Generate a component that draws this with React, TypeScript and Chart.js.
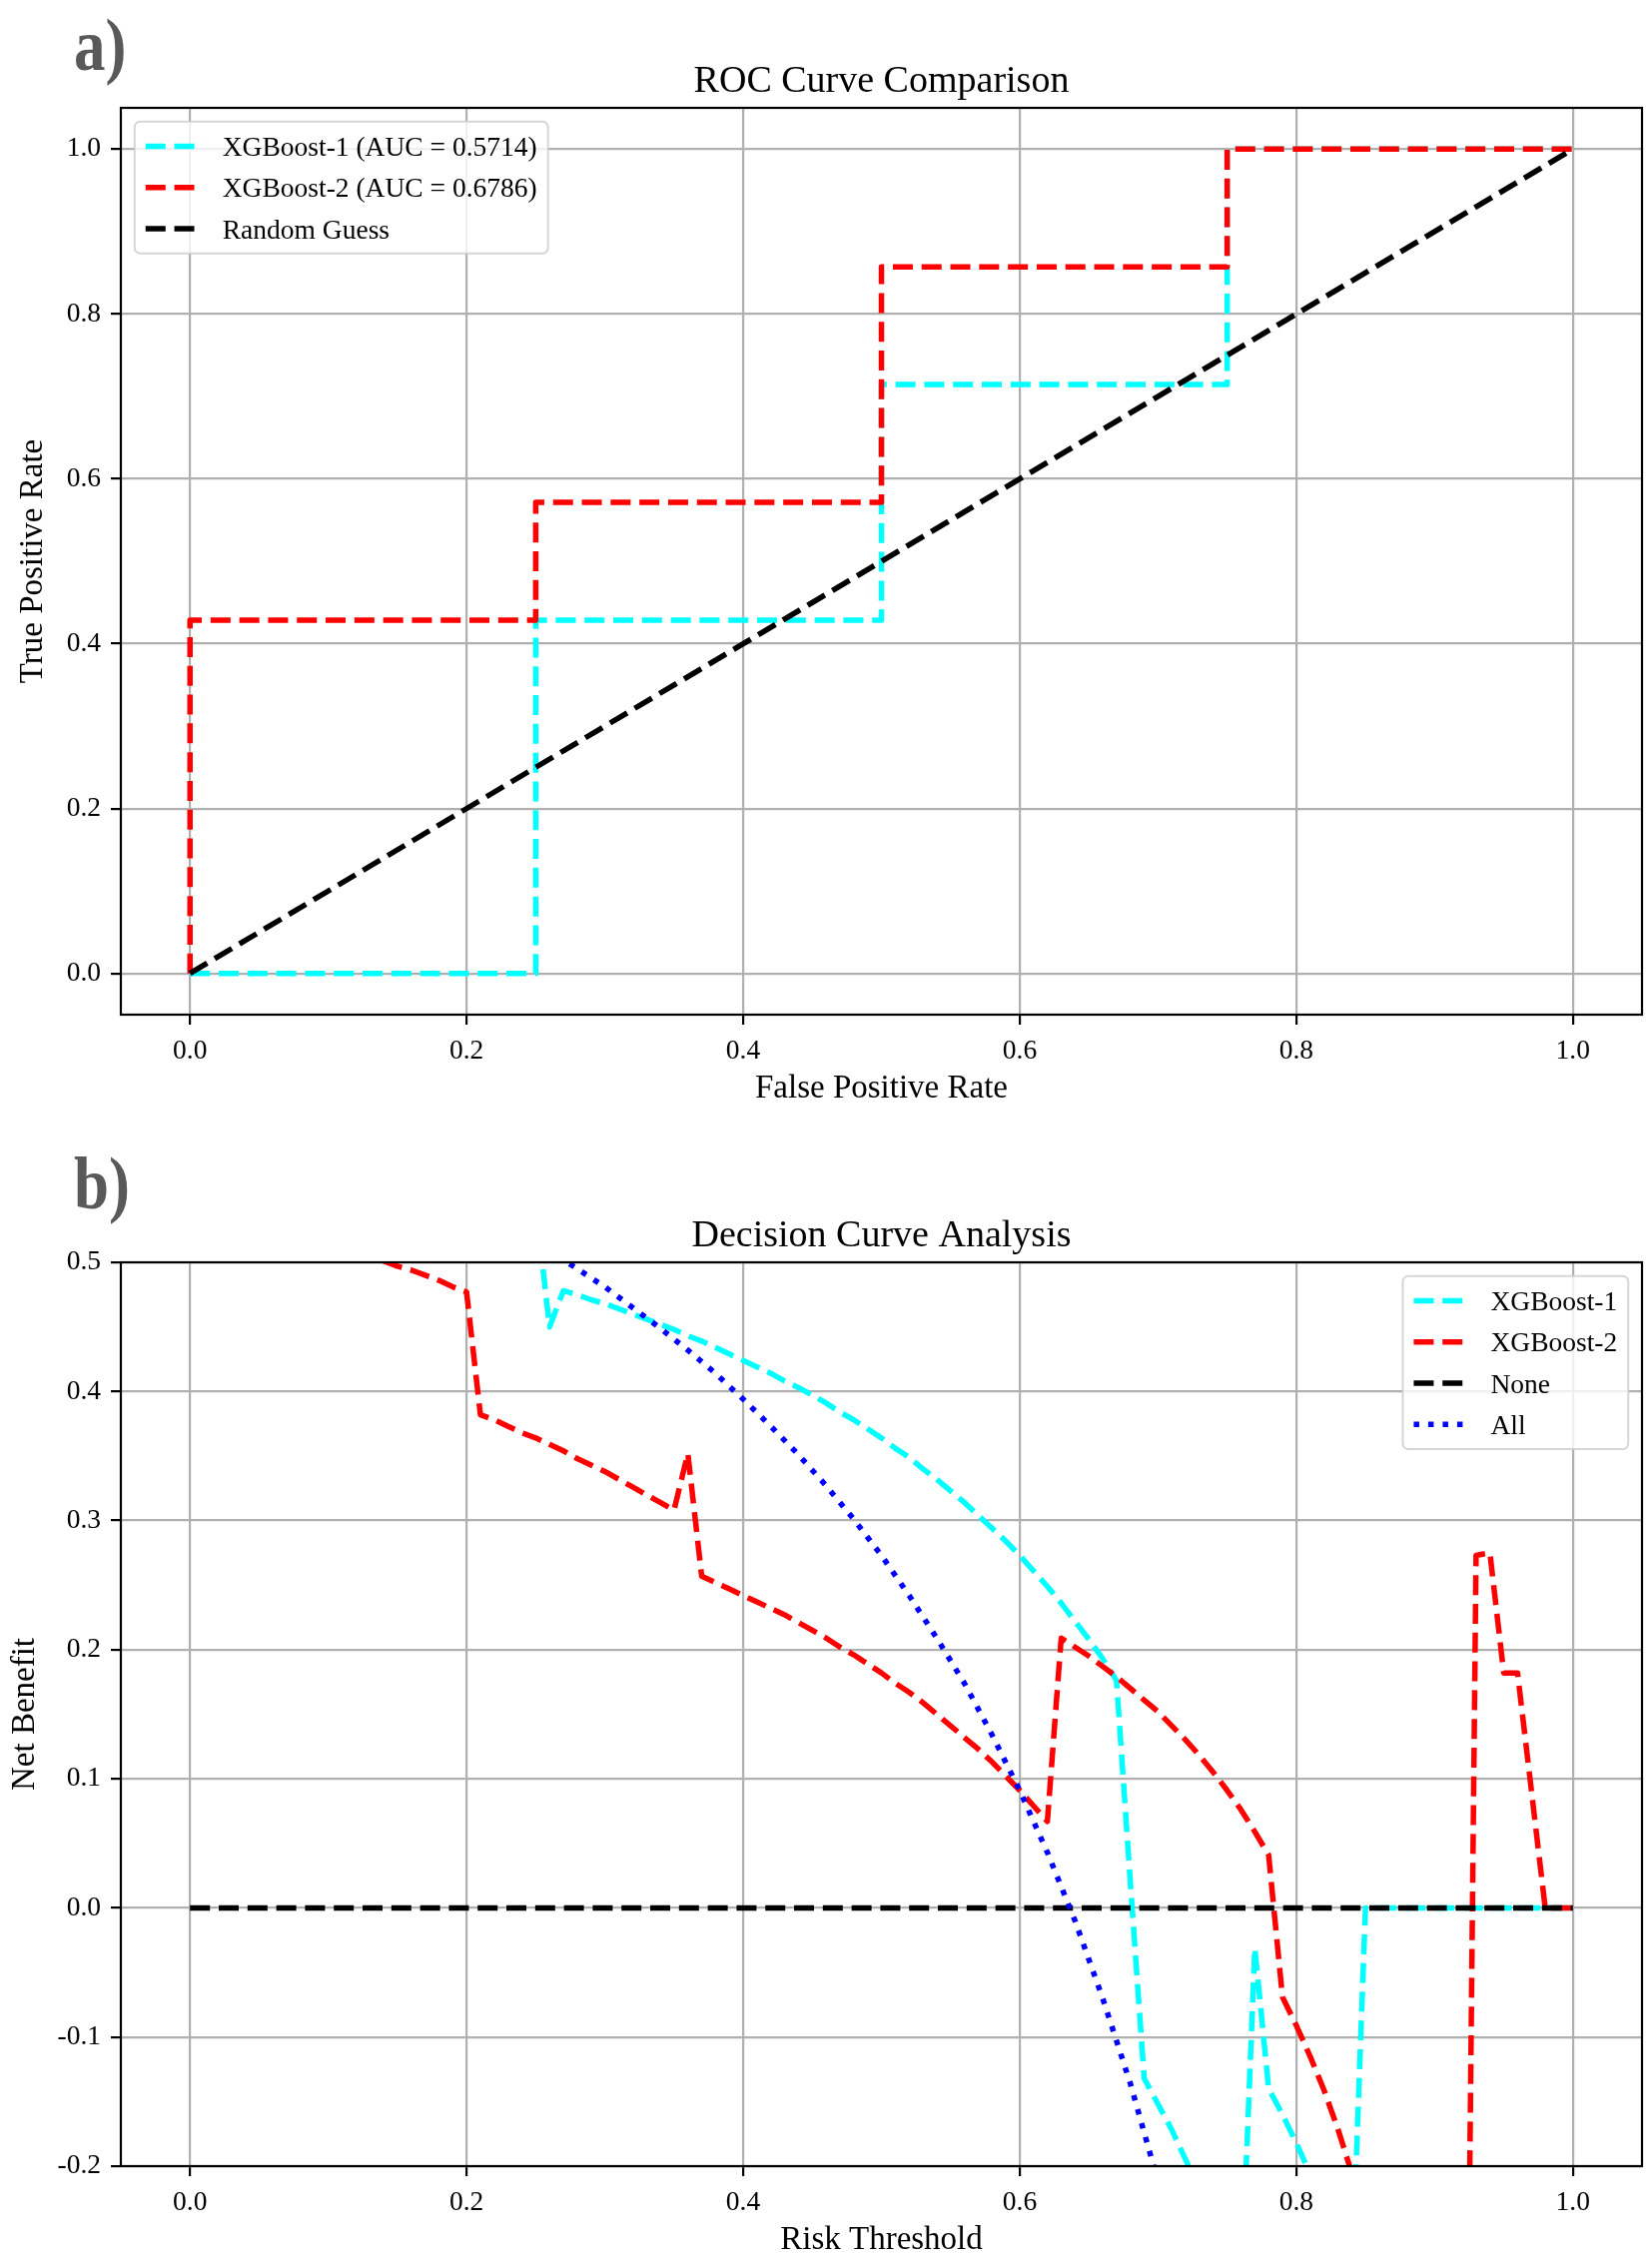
import { useEffect, useRef } from "react";
import { Chart, registerables } from "chart.js";

Chart.register(...registerables);

const SERIF = "'Liberation Serif', 'Times New Roman', serif";

// ---- panel a) ROC curves ----
const rocFpr1 = [0, 0.25, 0.25, 0.5, 0.5, 0.75, 0.75, 1.0];
const rocTpr1 = [0, 0, 0.4286, 0.4286, 0.7143, 0.7143, 1.0, 1.0];
const rocFpr2 = [0, 0, 0.25, 0.25, 0.5, 0.5, 0.75, 0.75, 1.0];
const rocTpr2 = [0, 0.4286, 0.4286, 0.5714, 0.5714, 0.8571, 0.8571, 1.0, 1.0];
const guessFpr = [0, 1];
const guessTpr = [0, 1];
const rocXTicks = [0, 0.2, 0.4, 0.6, 0.8, 1.0];
const rocYTicks = [0, 0.2, 0.4, 0.6, 0.8, 1.0];

// ---- panel b) decision curves ----
const thresholds = [
  0.0, 0.01, 0.02, 0.03, 0.04, 0.05, 0.06, 0.07, 0.08, 0.09,
  0.1, 0.11, 0.12, 0.13, 0.14, 0.15, 0.16, 0.17, 0.18, 0.19,
  0.2, 0.21, 0.22, 0.23, 0.24, 0.25, 0.26, 0.27, 0.28, 0.29,
  0.3, 0.31, 0.32, 0.33, 0.34, 0.35, 0.36, 0.37, 0.38, 0.39,
  0.4, 0.41, 0.42, 0.43, 0.44, 0.45, 0.46, 0.47, 0.48, 0.49,
  0.5, 0.51, 0.52, 0.53, 0.54, 0.55, 0.56, 0.57, 0.58, 0.59,
  0.6, 0.61, 0.62, 0.63, 0.64, 0.65, 0.66, 0.67, 0.68, 0.69,
  0.7, 0.71, 0.72, 0.73, 0.74, 0.75, 0.76, 0.77, 0.78, 0.79,
  0.8, 0.81, 0.82, 0.83, 0.84, 0.85, 0.86, 0.87, 0.88, 0.89,
  0.9, 0.91, 0.92, 0.93, 0.94, 0.95, 0.96, 0.97, 0.98, 0.99,
  1.0,
];
const nbXgb1 = [
  0.636, 0.634, 0.631, 0.628, 0.625, 0.622, 0.619, 0.616, 0.613, 0.609,
  0.606, 0.603, 0.599, 0.596, 0.592, 0.588, 0.584, 0.58, 0.577, 0.572,
  0.568, 0.564, 0.56, 0.555, 0.55, 0.545, 0.45, 0.478, 0.475, 0.471,
  0.468, 0.464, 0.46, 0.456, 0.452, 0.448, 0.443, 0.439, 0.434, 0.429,
  0.424, 0.419, 0.414, 0.408, 0.403, 0.397, 0.391, 0.384, 0.378, 0.371,
  0.364, 0.356, 0.349, 0.34, 0.332, 0.323, 0.314, 0.304, 0.294, 0.284,
  0.273, 0.261, 0.249, 0.236, 0.222, 0.208, 0.193, 0.176, 0.02, -0.132,
  -0.152, -0.172, -0.195, -0.219, -0.245, -0.273, -0.303, -0.031, -0.14, -0.16,
  -0.182, -0.206, -0.232, -0.262, -0.295, 0, 0, 0, 0, 0,
  0, 0, 0, 0, 0, 0, 0, 0, 0, 0,
  0,
];
const nbXgb2 = [
  0.545, 0.543, 0.54, 0.537, 0.534, 0.531, 0.528, 0.525, 0.522, 0.519,
  0.515, 0.512, 0.508, 0.505, 0.501, 0.497, 0.494, 0.49, 0.486, 0.481,
  0.477, 0.382, 0.378, 0.373, 0.368, 0.364, 0.359, 0.354, 0.348, 0.343,
  0.338, 0.332, 0.326, 0.32, 0.314, 0.308, 0.352, 0.257, 0.252, 0.247,
  0.242, 0.237, 0.232, 0.227, 0.221, 0.215, 0.209, 0.202, 0.196, 0.189,
  0.182, 0.174, 0.167, 0.159, 0.15, 0.141, 0.132, 0.123, 0.113, 0.102,
  0.091, 0.079, 0.067, 0.209, 0.202, 0.195, 0.187, 0.179, 0.17, 0.161,
  0.152, 0.141, 0.13, 0.118, 0.105, 0.091, 0.076, 0.059, 0.041, -0.069,
  -0.091, -0.115, -0.141, -0.171, -0.205, -0.242, -0.286, -0.336, -0.394, -0.463,
  -0.545, -0.647, -0.773, 0.273, 0.275, 0.182, 0.182, 0.091, 0, 0,
  0,
];
const noneX = [0, 1];
const noneY = [0, 0];
const allX = [
  0.0, 0.02, 0.04, 0.06, 0.08, 0.1, 0.12, 0.14, 0.16, 0.18,
  0.2, 0.22, 0.24, 0.26, 0.28, 0.3, 0.32, 0.34, 0.36, 0.38,
  0.4, 0.42, 0.44, 0.46, 0.48, 0.5, 0.52, 0.54, 0.56, 0.58,
  0.6, 0.62, 0.64, 0.66, 0.68, 0.7, 0.72,
];
const allY = [
  0.636, 0.629, 0.621, 0.613, 0.605, 0.596, 0.587, 0.577, 0.567, 0.557,
  0.545, 0.534, 0.522, 0.509, 0.495, 0.481, 0.465, 0.449, 0.432, 0.414,
  0.394, 0.373, 0.351, 0.327, 0.301, 0.273, 0.242, 0.209, 0.174, 0.134,
  0.091, 0.043, -0.01, -0.07, -0.136, -0.212, -0.299,
];
const dcaXTicks = [0, 0.2, 0.4, 0.6, 0.8, 1.0];
const dcaYTicks = [-0.2, -0.1, 0, 0.1, 0.2, 0.3, 0.4, 0.5];

const DASHED = [20, 8.8];
const DOTTED = [5.5, 9];

interface LegendEntry {
  label: string;
  color: string;
  dash: number[];
}

interface Deco {
  panel: string;
  panelY: number;
  title: string;
  xLabel: string;
  yLabel: string;
  titleY: number;
  xLabelY: number;
  yLabelX: number;
  legend: LegendEntry[];
  legendSide: "left" | "right";
}

const pts = (xs: number[], ys: number[]) => xs.map((x, i) => ({ x, y: ys[i] }));

function line(label: string, xs: number[], ys: number[], color: string, dash: number[], order: number) {
  return {
    label,
    data: pts(xs, ys),
    borderColor: color,
    backgroundColor: color,
    borderWidth: 5.5,
    borderDash: dash,
    borderCapStyle: "butt" as const,
    borderJoinStyle: "round" as const,
    pointRadius: 0,
    tension: 0,
    fill: false,
    clip: 0,
    order,
  };
}

function decoPlugin(d: Deco) {
  return {
    id: "deco",
    afterDatasetsDraw(chart: Chart) {
      const { ctx, chartArea: a } = chart;
      ctx.save();
      ctx.setLineDash([]);
      ctx.strokeStyle = "#000";
      ctx.lineWidth = 2.2;
      ctx.strokeRect(a.left, a.top, a.right - a.left, a.bottom - a.top);

      // legend box inside the axes, matplotlib style
      const fs = 27.5;
      const pad = 11;
      const handle = 55;
      const gap = 22;
      const spacing = 13.75;
      ctx.font = `${fs}px ${SERIF}`;
      const textW = Math.max(...d.legend.map((e) => ctx.measureText(e.label).width));
      const w = pad * 2 + handle + gap + textW;
      const n = d.legend.length;
      const h = pad * 2 + n * fs + (n - 1) * spacing;
      const x0 = d.legendSide === "left" ? a.left + 13.75 : a.right - 13.75 - w;
      const y0 = a.top + 13.75;
      ctx.beginPath();
      ctx.roundRect(x0, y0, w, h, 5.5);
      ctx.fillStyle = "rgba(255,255,255,0.8)";
      ctx.fill();
      ctx.strokeStyle = "rgba(204,204,204,0.8)";
      ctx.lineWidth = 2;
      ctx.stroke();

      d.legend.forEach((e, i) => {
        const cy = y0 + pad + fs / 2 + i * (fs + spacing);
        ctx.beginPath();
        ctx.setLineDash(e.dash);
        ctx.strokeStyle = e.color;
        ctx.lineWidth = 5.5;
        ctx.lineCap = "butt";
        ctx.moveTo(x0 + pad, cy);
        ctx.lineTo(x0 + pad + handle, cy);
        ctx.stroke();
        ctx.setLineDash([]);
        ctx.fillStyle = "#000";
        ctx.textAlign = "left";
        ctx.textBaseline = "alphabetic";
        ctx.fillText(e.label, x0 + pad + handle + gap, cy + 9.5);
      });
      ctx.restore();
    },
    afterDraw(chart: Chart) {
      const { ctx, chartArea: a } = chart;
      const cx = (a.left + a.right) / 2;
      ctx.save();
      ctx.fillStyle = "#000";
      ctx.textAlign = "center";
      ctx.textBaseline = "alphabetic";
      ctx.font = `38px ${SERIF}`;
      ctx.fillText(d.title, cx, d.titleY);
      ctx.font = `33px ${SERIF}`;
      ctx.fillText(d.xLabel, cx, d.xLabelY);
      ctx.save();
      ctx.translate(d.yLabelX, (a.top + a.bottom) / 2);
      ctx.rotate(-Math.PI / 2);
      ctx.textBaseline = "middle";
      ctx.fillText(d.yLabel, 0, 0);
      ctx.restore();

      // panel letter, slightly stretched like the figure
      ctx.translate(74, d.panelY);
      ctx.scale(1, 1.17);
      ctx.textAlign = "left";
      ctx.fillStyle = "#595959";
      ctx.font = `bold 63px ${SERIF}`;
      ctx.fillText(d.panel, 0, 0);
      ctx.restore();
    },
  };
}

function axis(ticks: number[], min: number, max: number, fit: (s: any) => void) {
  return {
    type: "linear" as const,
    min,
    max,
    afterBuildTicks: (s: any) => {
      s.ticks = ticks.map((value) => ({ value }));
    },
    afterFit: fit,
    grid: {
      color: "#b0b0b0",
      lineWidth: 2.2,
      tickLength: 10,
      tickColor: "#000",
      tickWidth: 2.2,
    },
    border: { display: false },
    ticks: {
      font: { family: SERIF, size: 27.5 },
      color: "#000",
      padding: 10,
      maxRotation: 0,
      autoSkip: false,
      callback: (v: any) => Number(v).toFixed(1),
    },
  };
}

function makeConfig(
  datasets: any[],
  xTicks: number[],
  yTicks: number[],
  yMin: number,
  yMax: number,
  canvasH: number,
  areaTop: number,
  areaBottom: number,
  deco: Deco
) {
  return {
    type: "line" as const,
    data: { datasets },
    options: {
      responsive: false,
      animation: false as const,
      devicePixelRatio: 1,
      events: [],
      layout: { padding: { top: areaTop, right: 10, left: 0, bottom: 0 } },
      scales: {
        x: axis(xTicks, -0.05, 1.05, (s: any) => {
          s.height = canvasH - areaBottom;
        }),
        y: axis(yTicks, yMin, yMax, (s: any) => {
          s.width = 121;
        }),
      },
      plugins: {
        legend: { display: false },
        tooltip: { enabled: false },
        title: { display: false },
      },
    },
    plugins: [decoPlugin(deco)],
  };
}

const TOP_H = 1130;
const BOT_H = 1133;

function rocConfig() {
  return makeConfig(
    [
      line("XGBoost-1 (AUC = 0.5714)", rocFpr1, rocTpr1, "#00ffff", DASHED, 2),
      line("XGBoost-2 (AUC = 0.6786)", rocFpr2, rocTpr2, "#ff0000", DASHED, 1),
      line("Random Guess", guessFpr, guessTpr, "#000000", DASHED, 0),
    ],
    rocXTicks,
    rocYTicks,
    -0.05,
    1.05,
    TOP_H,
    108,
    1016,
    {
      panel: "a)",
      panelY: 70,
      title: "ROC Curve Comparison",
      xLabel: "False Positive Rate",
      yLabel: "True Positive Rate",
      titleY: 91.5,
      xLabelY: 1099,
      yLabelX: 33,
      legendSide: "left",
      legend: [
        { label: "XGBoost-1 (AUC = 0.5714)", color: "#00ffff", dash: DASHED },
        { label: "XGBoost-2 (AUC = 0.6786)", color: "#ff0000", dash: DASHED },
        { label: "Random Guess", color: "#000000", dash: DASHED },
      ],
    }
  );
}

function dcaConfig() {
  return makeConfig(
    [
      line("XGBoost-1", thresholds, nbXgb1, "#00ffff", DASHED, 3),
      line("XGBoost-2", thresholds, nbXgb2, "#ff0000", DASHED, 2),
      line("None", noneX, noneY, "#000000", DASHED, 1),
      line("All", allX, allY, "#0000ff", DOTTED, 0),
    ],
    dcaXTicks,
    dcaYTicks,
    -0.2,
    0.5,
    BOT_H,
    1264 - TOP_H,
    2169 - TOP_H,
    {
      panel: "b)",
      panelY: 1210 - TOP_H,
      title: "Decision Curve Analysis",
      xLabel: "Risk Threshold",
      yLabel: "Net Benefit",
      titleY: 1247.5 - TOP_H,
      xLabelY: 2252 - TOP_H,
      yLabelX: 25,
      legendSide: "right",
      legend: [
        { label: "XGBoost-1", color: "#00ffff", dash: DASHED },
        { label: "XGBoost-2", color: "#ff0000", dash: DASHED },
        { label: "None", color: "#000000", dash: DASHED },
        { label: "All", color: "#0000ff", dash: DOTTED },
      ],
    }
  );
}

function ChartPanel({ top, height, build }: { top: number; height: number; build: () => any }) {
  const canvasRef = useRef<HTMLCanvasElement>(null);
  useEffect(() => {
    if (!canvasRef.current) return;
    const chart = new Chart(canvasRef.current, build());
    return () => chart.destroy();
  }, [build]);
  return (
    <canvas
      ref={canvasRef}
      width={1654}
      height={height}
      style={{ position: "absolute", left: 0, top, width: 1654, height }}
    />
  );
}

export default function App() {
  return (
    <div style={{ position: "absolute", left: 0, top: 0, width: 1654, height: 2263, background: "#fff", overflow: "hidden" }}>
      <ChartPanel top={0} height={TOP_H} build={rocConfig} />
      <ChartPanel top={TOP_H} height={BOT_H} build={dcaConfig} />
    </div>
  );
}
